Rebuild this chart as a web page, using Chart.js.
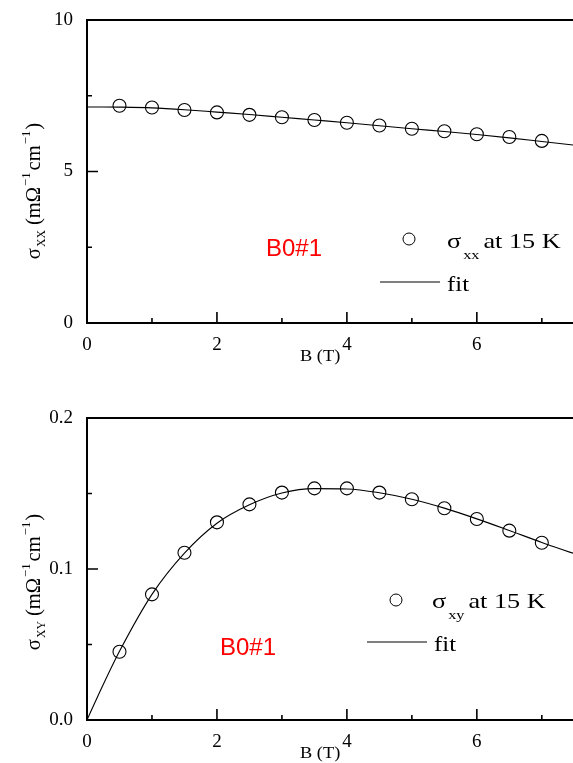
<!DOCTYPE html>
<html>
<head>
<meta charset="utf-8">
<script src="https://cdn.jsdelivr.net/npm/chart.js@4.4.1/dist/chart.umd.min.js"></script>
<style>
  html, body { margin: 0; padding: 0; background: #fff; }
  .box { position: relative; width: 573px; }
  canvas { display: block; }
</style>
</head>
<body>
<div class="box" style="height:380px"><canvas id="c1" width="573" height="380"></canvas></div>
<div class="box" style="height:383px"><canvas id="c2" width="573" height="383"></canvas></div>
<script>
// ---- data ----
const fieldB = [0.5, 1, 1.5, 2, 2.5, 3, 3.5, 4, 4.5, 5, 5.5, 6, 6.5, 7];
const sigmaXX = [7.17, 7.11, 7.03, 6.95, 6.87, 6.79, 6.70, 6.61, 6.52, 6.41, 6.33, 6.23, 6.14, 6.01];
const sigmaXY = [0.0452, 0.0832, 0.1108, 0.1309, 0.1428, 0.1506, 0.1534, 0.1534, 0.1506, 0.1462, 0.1402, 0.1331, 0.1254, 0.1174];
const fitB = [0, 0.25, 0.5, 1, 1.5, 2, 2.5, 3, 3.5, 4, 4.5, 5, 5.5, 6, 6.5, 7, 7.5];
const fitXX = [7.13, 7.13, 7.125, 7.10, 7.04, 6.96, 6.88, 6.79, 6.70, 6.61, 6.51, 6.41, 6.32, 6.22, 6.11, 5.99, 5.87];
const fitXY = [0, 0.0235, 0.0455, 0.0832, 0.1105, 0.1303, 0.1425, 0.1503, 0.1532, 0.1530, 0.1505, 0.1462, 0.1403, 0.1332, 0.1255, 0.1176, 0.1102];
const xTicks = [0, 2, 4, 6];
const xMinor = [1, 3, 5, 7];
const yTicksTop = [0, 5, 10];
const yMinorTop = [2.5, 7.5];
const yTicksBot = [0, 0.1, 0.2];
const yMinorBot = [0.05, 0.15];
const yLabelsBot = ['0.0', '0.1', '0.2'];

const SERIF = '"Liberation Serif", "Times New Roman", serif';
const SANS = '"Liberation Sans", Arial, sans-serif';

// draw a sequence of text runs: [text, size, dy, gapAfter], horizontally scaled by sx
function drawRuns(ctx, runs, x, y, sx) {
  sx = sx || 1;
  ctx.save();
  ctx.translate(x, y);
  ctx.scale(sx, 1);
  let cx = 0;
  runs.forEach(r => {
    ctx.font = r[1] + 'px ' + SERIF;
    ctx.fillText(r[0], cx, (r[2] || 0));
    cx += ctx.measureText(r[0]).width + (r[3] || 0) / sx;
  });
  ctx.restore();
}
function runsWidth(ctx, runs, sx) {
  sx = sx || 1;
  let w = 0;
  runs.forEach(r => { ctx.font = r[1] + 'px ' + SERIF; w += ctx.measureText(r[0]).width * sx + (r[3] || 0); });
  return w;
}

function makePlugin(o) {
  return {
    id: 'deco',
    afterDraw(chart) {
      const ctx = chart.ctx;
      const a = chart.chartArea;
      const xs = chart.scales.x, ys = chart.scales.y;
      ctx.save();
      ctx.strokeStyle = '#000';
      ctx.fillStyle = '#000';
      // frame: left, bottom, top
      ctx.lineWidth = 2;
      ctx.beginPath();
      ctx.moveTo(chart.width, a.top); ctx.lineTo(a.left, a.top); ctx.lineTo(a.left, a.bottom); ctx.lineTo(chart.width, a.bottom);
      ctx.stroke();
      // inward ticks
      ctx.lineWidth = 1.6;
      ctx.beginPath();
      xTicks.forEach(v => { const p = xs.getPixelForValue(v); if (v > 0) { ctx.moveTo(p, a.bottom); ctx.lineTo(p, a.bottom - 11); } });
      xMinor.forEach(v => { const p = xs.getPixelForValue(v); ctx.moveTo(p, a.bottom); ctx.lineTo(p, a.bottom - 5); });
      o.yMajor.forEach(v => { const p = ys.getPixelForValue(v); ctx.moveTo(a.left, p); ctx.lineTo(a.left + 11, p); });
      o.yMinor.forEach(v => { const p = ys.getPixelForValue(v); ctx.moveTo(a.left, p); ctx.lineTo(a.left + 5, p); });
      ctx.stroke();

      // x title
      ctx.textBaseline = 'alphabetic';
      ctx.textAlign = 'left';
      drawRuns(ctx, [['B (T)', 17, 0, 0]], 300, a.bottom + 38, 1.08);

      // y title (rotated)
      ctx.save();
      ctx.translate(o.yTitleX, o.yTitleY);
      ctx.rotate(-Math.PI / 2);
      const runs = [['σ', 21, 0, 1], [o.sub, 12, 5, 5], ['(mΩ', 21, 0, 1], ['−1', 13, -10, 2], ['cm', 21, 0, 1], ['−1', 13, -10, 1], [')', 21, 0, 0]];
      const w = runsWidth(ctx, runs, 0.98);
      drawRuns(ctx, runs, -w / 2, 7, 0.98);
      ctx.restore();

      // legend
      const L = o.legend;
      ctx.lineWidth = 1;
      ctx.beginPath();
      ctx.arc(L.cx, L.cy, 6, 0, Math.PI * 2);
      ctx.stroke();
      drawRuns(ctx, [['σ', 21, 0, 2], [L.sub, 13, 11, 4], ['at 15 K', 21, 0, 0]], L.tx, L.ty, 1.25);
      ctx.beginPath();
      ctx.moveTo(L.lx1, L.ly); ctx.lineTo(L.lx2, L.ly);
      ctx.stroke();
      drawRuns(ctx, [['fit', 21, 0, 0]], L.lx2 + 7, L.ly + 9, 1.18);

      // sample label
      ctx.fillStyle = '#ff0000';
      ctx.font = '24px ' + SANS;
      ctx.textBaseline = 'middle';
      ctx.fillText('B0#1', o.sx, o.sy);
      ctx.restore();
    }
  };
}

function makeChart(id, opts) {
  return new Chart(document.getElementById(id), {
    type: 'scatter',
    data: {
      datasets: [
        {
          label: 'data', data: fieldB.map((b, i) => ({ x: b, y: opts.values[i] })),
          showLine: false, pointStyle: 'circle', pointRadius: 6.5, pointHoverRadius: 6.5,
          pointBackgroundColor: 'rgba(255,255,255,0)', pointBorderColor: '#000', pointBorderWidth: 1.1
        },
        {
          label: 'fit', data: fitB.map((b, i) => ({ x: b, y: opts.fit[i] })),
          showLine: true, pointRadius: 0, borderColor: '#000', borderWidth: 1.1,
          cubicInterpolationMode: 'monotone', fill: false
        }
      ]
    },
    options: {
      responsive: false, animation: false, events: [],
      layout: { autoPadding: false, padding: { top: opts.padTop, right: 0, left: 0, bottom: 0 } },
      plugins: { legend: { display: false }, tooltip: { enabled: false } },
      scales: {
        x: {
          type: 'linear', min: 0, max: 7.48,
          grid: { display: false, drawTicks: false }, border: { display: false },
          afterBuildTicks: s => { s.ticks = xTicks.map(v => ({ value: v })); },
          afterFit: s => { s.height = opts.xH; s.paddingLeft = 0; s.paddingRight = 0; s.paddingTop = 0; s.paddingBottom = 0; },
          ticks: { color: '#000', font: { family: SERIF, size: 19 }, padding: 11, maxRotation: 0,
                   callback: v => String(v) }
        },
        y: {
          type: 'linear', min: opts.yMin, max: opts.yMax,
          grid: { display: false, drawTicks: false }, border: { display: false },
          afterBuildTicks: s => { s.ticks = opts.yMajor.map(v => ({ value: v })); },
          afterFit: s => { s.width = 87; s.paddingLeft = 0; s.paddingRight = 0; s.paddingTop = 0; s.paddingBottom = 0; },
          ticks: { color: '#000', font: { family: SERIF, size: 19 }, padding: 14,
                   callback: opts.yCb }
        }
      }
    },
    plugins: [makePlugin(opts)]
  });
}

makeChart('c1', {
  values: sigmaXX, fit: fitXX, padTop: 20, xH: 57, yMin: 0, yMax: 10,
  yMajor: yTicksTop, yMinor: yMinorTop, yCb: v => String(v),
  sub: 'XX', yTitleX: 33, yTitleY: 191,
  legend: { cx: 409, cy: 239, tx: 447, ty: 248, sub: 'xx', lx1: 380, lx2: 440, ly: 282 },
  sx: 266, sy: 249
});
makeChart('c2', {
  values: sigmaXY, fit: fitXY, padTop: 38, xH: 43, yMin: 0, yMax: 0.2,
  yMajor: yTicksBot, yMinor: yMinorBot, yCb: v => yLabelsBot[yTicksBot.findIndex(t => Math.abs(t - v) < 1e-9)] || '',
  sub: 'XY', yTitleX: 33, yTitleY: 202,
  legend: { cx: 396, cy: 220, tx: 432, ty: 228, sub: 'xy', lx1: 367, lx2: 427, ly: 262 },
  sx: 220, sy: 268
});
</script>
</body>
</html>
